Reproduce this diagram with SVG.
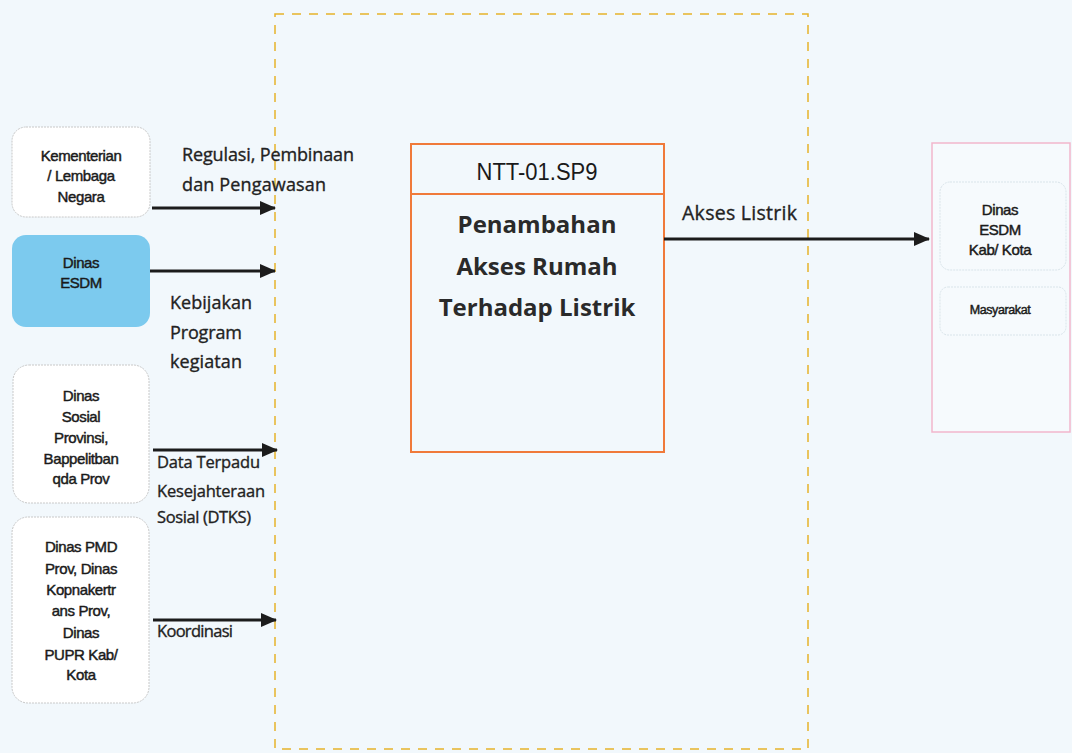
<svg xmlns="http://www.w3.org/2000/svg" width="1072" height="753" viewBox="0 0 1072 753">
<defs>
<marker id="arr" markerWidth="16" markerHeight="14" refX="15" refY="7" orient="auto" markerUnits="userSpaceOnUse" viewBox="0 0 16 14">
<path d="M0,0 L16,7 L0,14 Z" fill="#1c1c1c"/>
</marker>
<style>
.node{font-family:"Liberation Sans",Arial,sans-serif;font-size:15px;fill:#1a1a1a;stroke:#1a1a1a;stroke-width:0.45;text-anchor:middle;letter-spacing:-0.4px}
.lbl{font-family:"Open Sans","Noto Sans",sans-serif;font-size:18px;fill:#222222;stroke:#222222;stroke-width:0.35}
.title{font-family:"Liberation Sans",Arial,sans-serif;font-size:24px;fill:#1a1a1a;text-anchor:middle}
.big{font-family:"Open Sans","Noto Sans",sans-serif;font-size:24px;font-weight:bold;fill:#2a2a2a;text-anchor:middle}
.conn{stroke:#1c1c1c;stroke-width:3;fill:none;marker-end:url(#arr)}
.soft{fill:#ffffff;stroke:#c8c8c8;stroke-width:1;stroke-dasharray:2 1}
</style>
</defs>
<rect width="1072" height="753" fill="#f2f8fc"/>

<!-- scope boundary -->
<rect x="275" y="14" width="533" height="735" fill="none" stroke="#e6b22a" stroke-width="1.5" stroke-dasharray="9 8"/>

<g id="kementerian">
<rect class="soft" x="12" y="127" width="138" height="90" rx="14"/>
<text class="node" x="81" y="161">Kementerian</text>
<text class="node" x="81" y="181">/ Lembaga</text>
<text class="node" x="81" y="202">Negara</text>
</g>

<g id="dinas-esdm">
<rect x="12" y="235" width="138" height="92" rx="14" fill="#7ccaee"/>
<text class="node" x="81" y="268">Dinas</text>
<text class="node" x="81" y="288">ESDM</text>
</g>

<g id="dinas-sosial">
<rect class="soft" x="13" y="365" width="136" height="138" rx="16"/>
<text class="node" x="81" y="401">Dinas</text>
<text class="node" x="81" y="422">Sosial</text>
<text class="node" x="81" y="443">Provinsi,</text>
<text class="node" x="81" y="464">Bappelitban</text>
<text class="node" x="81" y="484">qda Prov</text>
</g>

<g id="dinas-pmd">
<rect class="soft" x="12" y="517" width="137" height="186" rx="16"/>
<text class="node" x="81" y="552">Dinas PMD</text>
<text class="node" x="81" y="574">Prov, Dinas</text>
<text class="node" x="81" y="595">Kopnakertr</text>
<text class="node" x="81" y="616">ans Prov,</text>
<text class="node" x="81" y="638">Dinas</text>
<text class="node" x="81" y="660">PUPR Kab/</text>
<text class="node" x="81" y="680">Kota</text>
</g>

<g id="ntt-01-sp9">
<rect x="411" y="144" width="253" height="308" fill="none" stroke="#f07a3a" stroke-width="2"/>
<line x1="411" y1="194" x2="664" y2="194" stroke="#f07a3a" stroke-width="2"/>
<text class="title" x="537" y="180" textLength="121" lengthAdjust="spacingAndGlyphs">NTT-01.SP9</text>
<text class="big" x="537" y="233">Penambahan</text>
<text class="big" x="537" y="275">Akses Rumah</text>
<text class="big" x="537" y="316">Terhadap Listrik</text>
</g>

<g id="penerima">
<rect x="932" y="143" width="138" height="289" fill="#f6fafd" stroke="#f2b6cc" stroke-width="1.5"/>
<rect x="940" y="182" width="126" height="88" rx="10" fill="none" stroke="#d9e4ea" stroke-width="1" stroke-dasharray="2 1"/>
<rect x="940" y="287" width="126" height="48" rx="8" fill="none" stroke="#d9e4ea" stroke-width="1" stroke-dasharray="2 1"/>
<text class="node" x="1000" y="215">Dinas</text>
<text class="node" x="1000" y="235">ESDM</text>
<text class="node" x="1000" y="255">Kab/ Kota</text>
<text class="node" x="1000" y="314" style="font-size:12.5px">Masyarakat</text>
</g>

<g id="connectors">
<line class="conn" x1="152" y1="208" x2="275" y2="208"/>
<line class="conn" x1="150" y1="271" x2="275" y2="271"/>
<line class="conn" x1="153" y1="450" x2="277" y2="450"/>
<line class="conn" x1="153" y1="620" x2="276" y2="620"/>
<line class="conn" x1="664" y1="239" x2="929" y2="239"/>
<text class="lbl" x="182" y="161" textLength="172">Regulasi, Pembinaan</text>
<text class="lbl" x="182" y="191" textLength="144">dan Pengawasan</text>
<text class="lbl" x="170" y="309" textLength="82">Kebijakan</text>
<text class="lbl" x="170" y="339" textLength="72">Program</text>
<text class="lbl" x="170" y="368" textLength="72">kegiatan</text>
<text class="lbl" x="157" y="468" textLength="103" style="font-size:16.5px">Data Terpadu</text>
<text class="lbl" x="157" y="497" textLength="108" style="font-size:16.5px">Kesejahteraan</text>
<text class="lbl" x="157" y="523" textLength="94" style="font-size:16.5px">Sosial (DTKS)</text>
<text class="lbl" x="157" y="637" textLength="76" style="font-size:16.5px">Koordinasi</text>
<text class="lbl" x="682" y="220" textLength="115" style="font-size:19.5px">Akses Listrik</text>
</g>
</svg>
